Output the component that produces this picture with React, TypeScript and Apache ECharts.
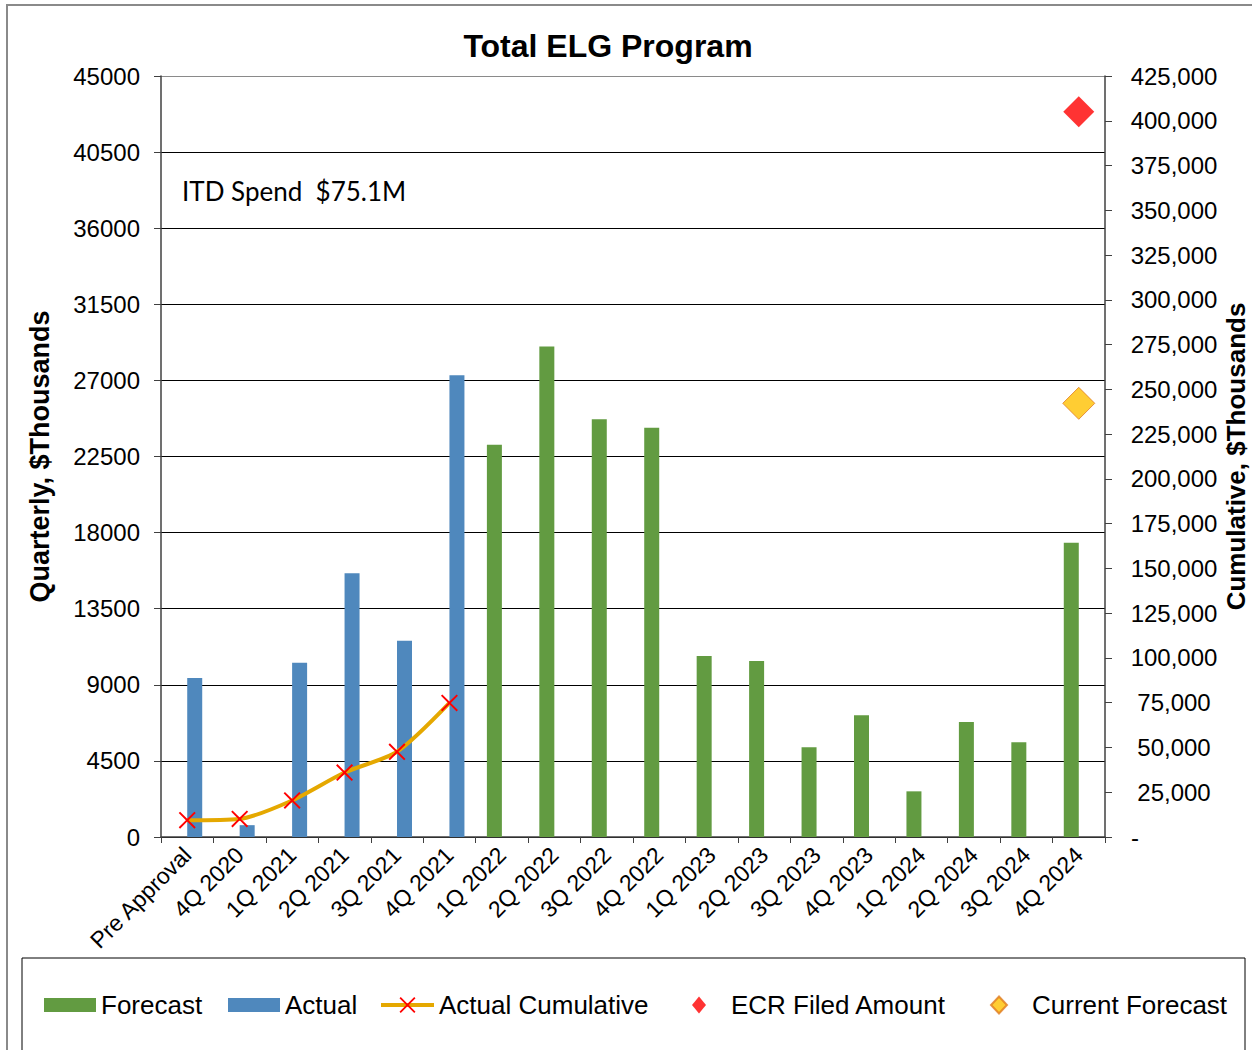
import React, { useEffect, useRef } from "react";
import * as echarts from "echarts";

const categories = [
  "Pre Approval", "4Q 2020", "1Q 2021", "2Q 2021", "3Q 2021", "4Q 2021",
  "1Q 2022", "2Q 2022", "3Q 2022", "4Q 2022", "1Q 2023", "2Q 2023",
  "3Q 2023", "4Q 2023", "1Q 2024", "2Q 2024", "3Q 2024", "4Q 2024",
];
const forecast = [
  null, null, null, null, null, null,
  23200, 29000, 24700, 24200, 10700, 10400, 5300, 7200, 2700, 6800, 5600, 17400,
];
const actual = [9400, 700, 10300, 15600, 11600, 27300, null, null, null, null, null, null, null, null, null, null, null, null];
const actualCumulative = [9400, 10100, 20400, 36000, 47600, 74900, null, null, null, null, null, null, null, null, null, null, null, null];
const ecrFiled = [null, null, null, null, null, null, null, null, null, null, null, null, null, null, null, null, null, 405000];
const currentForecast = [null, null, null, null, null, null, null, null, null, null, null, null, null, null, null, null, null, 242200];

const FONT = "'Liberation Sans', Arial, sans-serif";
const X_PATH =
  "path://M0,0.8 L0.8,0 L5,4.2 L9.2,0 L10,0.8 L5.8,5 L10,9.2 L9.2,10 L5,5.8 L0.8,10 L0,9.2 L4.2,5 Z";

export default function App() {
  const ref = useRef<HTMLDivElement>(null);
  useEffect(() => {
    document.body.style.margin = "0";
    const chart = echarts.init(ref.current!, null, { renderer: "svg" });
    const gridColors = Array(10).fill("#000000").concat(["#8a8a8a"]);
    const legendBase = {
      orient: "horizontal",
      top: 992,
      padding: 0,
      itemHeight: 14,
      textStyle: { fontSize: 26, color: "#000", fontFamily: FONT },
      selectedMode: false,
    };
    chart.setOption({
      animation: false,
      backgroundColor: "#ffffff",
      title: {
        text: "Total ELG Program",
        left: 608,
        textAlign: "center",
        top: 30,
        padding: 0,
        textStyle: { fontSize: 32, fontWeight: "bold", color: "#000", fontFamily: FONT },
      },
      grid: {
        left: 161,
        right: 147,
        top: 76,
        bottom: 213,
        containLabel: false,
        outerBoundsMode: "none",
      },
      legend: [
        { ...legendBase, left: 44, itemWidth: 52, icon: "rect", data: ["Forecast"] },
        { ...legendBase, left: 228, itemWidth: 52, icon: "rect", data: ["Actual"] },
        {
          ...legendBase,
          left: 379,
          itemWidth: 53,
          itemHeight: 20,
          lineStyle: { width: 4, color: "#E5A800" },
          data: ["Actual Cumulative"],
        },
        {
          ...legendBase,
          left: 692,
          itemWidth: 14,
          itemHeight: 17,
          textStyle: { ...legendBase.textStyle, padding: [0, 0, 0, 20] },
          data: ["ECR Filed Amount"],
        },
        {
          ...legendBase,
          left: 990,
          itemWidth: 16,
          itemHeight: 17,
          textStyle: { ...legendBase.textStyle, padding: [0, 0, 0, 20] },
          data: ["Current Forecast"],
        },
      ],
      xAxis: {
        type: "category",
        data: categories,
        boundaryGap: true,
        axisLine: { lineStyle: { color: "#404040", width: 1.5 } },
        axisTick: { show: true, interval: 0, length: 6, lineStyle: { color: "#404040" } },
        axisLabel: {
          interval: 0,
          rotate: 45,
          fontSize: 23,
          color: "#000",
          fontFamily: FONT,
          margin: 14,
        },
      },
      yAxis: [
        {
          type: "value",
          min: 0,
          max: 45000,
          interval: 4500,
          position: "left",
          name: "Quarterly, $Thousands",
          nameLocation: "middle",
          nameRotate: 90,
          nameGap: 108,
          nameMoveOverlap: false,
          nameTextStyle: { fontSize: 27, fontWeight: "bold", color: "#000", fontFamily: FONT },
          axisLine: { show: true, lineStyle: { color: "#404040", width: 1.5 } },
          axisTick: { show: true, length: 7, lineStyle: { color: "#404040" } },
          axisLabel: {
            fontSize: 24,
            color: "#000",
            fontFamily: FONT,
            margin: 21,
            formatter: (v: number) => String(v),
          },
          splitLine: { show: true, lineStyle: { color: gridColors, width: 1 } },
        },
        {
          type: "value",
          min: 0,
          max: 425000,
          interval: 25000,
          position: "right",
          name: "Cumulative, $Thousands",
          nameLocation: "middle",
          nameRotate: 90,
          nameGap: 118,
          nameMoveOverlap: false,
          nameTextStyle: { fontSize: 26, fontWeight: "bold", color: "#000", fontFamily: FONT },
          axisLine: { show: true, lineStyle: { color: "#404040", width: 1.5 } },
          axisTick: { show: true, length: 7, lineStyle: { color: "#404040" } },
          axisLabel: {
            fontSize: 24,
            color: "#000",
            fontFamily: FONT,
            margin: 69,
            align: "center",
            formatter: (v: number) =>
              v === 0 ? "{d|-}" : v.toLocaleString("en-US"),
            rich: { d: { width: 86, align: "left", fontSize: 24, fontFamily: FONT, color: "#000" } },
          },
          splitLine: { show: false },
        },
      ],
      series: [
        {
          name: "Forecast",
          type: "bar",
          yAxisIndex: 0,
          data: forecast,
          barWidth: 15,
          barGap: "0%",
          itemStyle: { color: "#629B41" },
        },
        {
          name: "Actual",
          type: "bar",
          yAxisIndex: 0,
          data: actual,
          barWidth: 15,
          barGap: "0%",
          itemStyle: { color: "#4F88BD" },
        },
        {
          name: "Actual Cumulative",
          type: "line",
          yAxisIndex: 1,
          data: actualCumulative,
          smooth: 0.25,
          symbol: X_PATH,
          symbolSize: 17,
          showAllSymbol: true,
          lineStyle: { color: "#E5A800", width: 4 },
          itemStyle: { color: "#FF0000" },
          z: 5,
        },
        {
          name: "ECR Filed Amount",
          type: "scatter",
          yAxisIndex: 1,
          data: ecrFiled,
          symbol: "diamond",
          symbolSize: 31,
          itemStyle: { color: "#FF0000" },
        },
        {
          name: "Current Forecast",
          type: "scatter",
          yAxisIndex: 1,
          data: currentForecast,
          symbol: "diamond",
          symbolSize: 32,
          itemStyle: { color: "#FFC000", borderColor: "#E07A1F", borderWidth: 1 },
        },
      ],
      graphic: [
        {
          type: "rect",
          shape: { x: 7, y: 5, width: 1260, height: 1060 },
          style: { fill: "none", stroke: "#8a8a8a", lineWidth: 2 },
          silent: true,
          z: -10,
        },
        {
          type: "rect",
          shape: { x: 22, y: 958, width: 1223, height: 110 },
          style: { fill: "none", stroke: "#000", lineWidth: 1 },
          silent: true,
        },
        {
          type: "text",
          x: 182,
          y: 191,
          style: {
            text: "ITD Spend  $75.1M",
            fontSize: 26,
            fontFamily: "Lato, 'Open Sans', sans-serif",
            fill: "#000",
            textVerticalAlign: "middle",
          },
        },
      ],
    });
    return () => chart.dispose();
  }, []);
  return <div ref={ref} style={{ width: 1252, height: 1050 }} />;
}
